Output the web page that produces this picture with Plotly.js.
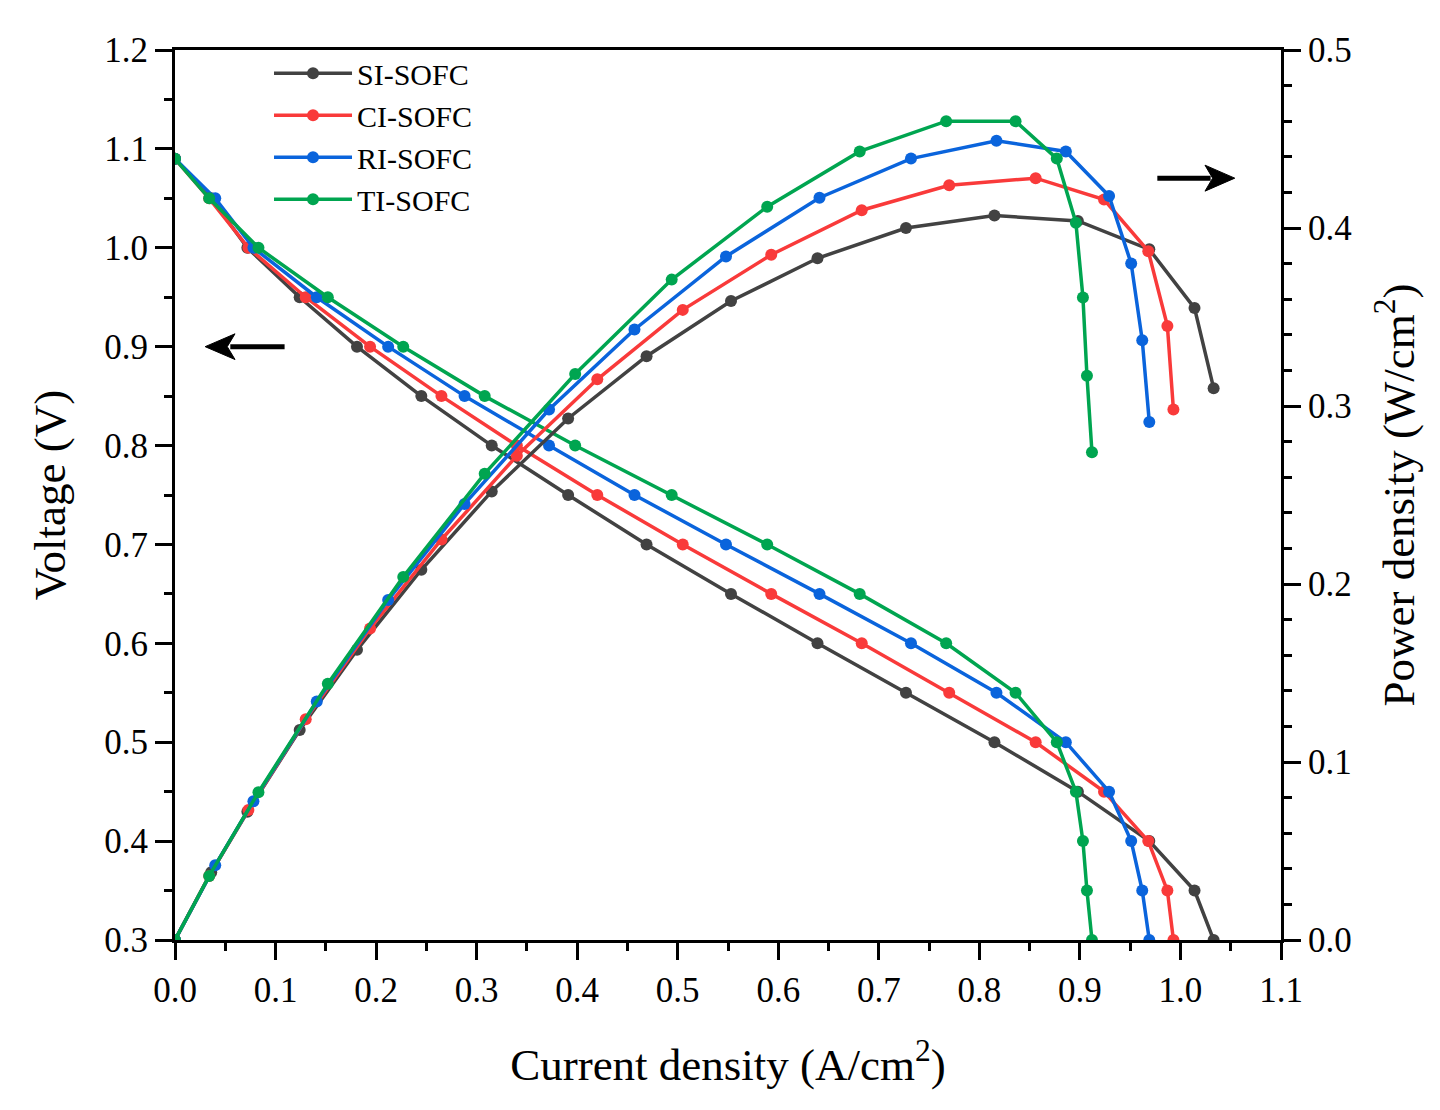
<!DOCTYPE html>
<html>
<head>
<meta charset="utf-8">
<script src="https://cdn.plot.ly/plotly-3.0.1.min.js"></script>
<style>html,body{margin:0;padding:0;background:#fff;}#chart{width:1440px;height:1110px;}</style>
</head>
<body>
<div id="chart"></div>
<script>
// Series names
const seriesNames = ["SI-SOFC", "CI-SOFC", "RI-SOFC", "TI-SOFC"];
const seriesColors = ["#424242", "#F93A3A", "#0A64DC", "#00A550"];

// Voltage levels (V) shared by all series
const voltage = [1.09, 1.05, 1.00, 0.95, 0.90, 0.85, 0.80, 0.75, 0.70, 0.65, 0.60, 0.55, 0.50, 0.45, 0.40, 0.35, 0.30];

// Current density (A/cm2) read for each series
const currentSI = [0, 0.036, 0.072, 0.124, 0.181, 0.245, 0.315, 0.391, 0.469, 0.553, 0.639, 0.727, 0.815, 0.898, 0.969, 1.014, 1.033];
const currentCI = [0, 0.034, 0.073, 0.130, 0.194, 0.265, 0.340, 0.420, 0.505, 0.593, 0.683, 0.770, 0.856, 0.924, 0.968, 0.987, 0.993];
const currentRI = [0, 0.040, 0.078, 0.141, 0.212, 0.288, 0.372, 0.457, 0.548, 0.641, 0.732, 0.817, 0.886, 0.929, 0.951, 0.962, 0.969];
const currentTI = [0, 0.034, 0.083, 0.152, 0.227, 0.308, 0.398, 0.494, 0.589, 0.681, 0.767, 0.836, 0.877, 0.896, 0.903, 0.907, 0.912];

// Power density (W/cm2) read for each series
const powerSI = [0, 0.038, 0.072, 0.118, 0.163, 0.208, 0.252, 0.293, 0.328, 0.359, 0.383, 0.400, 0.407, 0.404, 0.388, 0.355, 0.310];
const powerCI = [0, 0.036, 0.073, 0.124, 0.175, 0.225, 0.272, 0.315, 0.354, 0.385, 0.410, 0.424, 0.428, 0.416, 0.387, 0.345, 0.298];
const powerRI = [0, 0.042, 0.078, 0.134, 0.191, 0.245, 0.298, 0.343, 0.384, 0.417, 0.439, 0.449, 0.443, 0.418, 0.380, 0.337, 0.291];
const powerTI = [0, 0.036, 0.083, 0.144, 0.204, 0.262, 0.318, 0.371, 0.412, 0.443, 0.460, 0.460, 0.439, 0.403, 0.361, 0.317, 0.274];

// Axis tick values
const xTicks = [0.0, 0.1, 0.2, 0.3, 0.4, 0.5, 0.6, 0.7, 0.8, 0.9, 1.0, 1.1];
const yTicks = [0.3, 0.4, 0.5, 0.6, 0.7, 0.8, 0.9, 1.0, 1.1, 1.2];
const y2Ticks = [0.0, 0.1, 0.2, 0.3, 0.4, 0.5];

const currents = [currentSI, currentCI, currentRI, currentTI];
const powers = [powerSI, powerCI, powerRI, powerTI];

const traces = [];
for (let i = 0; i < 4; i++) {
  traces.push({
    x: currents[i], y: voltage, type: 'scatter', mode: 'lines+markers',
    name: seriesNames[i], yaxis: 'y', showlegend: true,
    line: {color: seriesColors[i], width: 3.5},
    marker: {color: seriesColors[i], size: 12, line: {width: 0}}
  });
}
for (let i = 0; i < 4; i++) {
  traces.push({
    x: currents[i], y: powers[i], type: 'scatter', mode: 'lines+markers',
    name: seriesNames[i], yaxis: 'y2', showlegend: false,
    line: {color: seriesColors[i], width: 3.5},
    marker: {color: seriesColors[i], size: 12, line: {width: 0}}
  });
}

const fontFam = '"Liberation Serif", "Times New Roman", serif';
const axisCommon = {
  showline: true, linewidth: 3, linecolor: '#000',
  ticks: 'outside', ticklen: 17, tickwidth: 3, tickcolor: '#000',
  showgrid: false, zeroline: false,
  tickfont: {family: fontFam, size: 35, color: '#000'},
  tickformat: '.1f'
};

const layout = {
  width: 1440, height: 1110,
  margin: {l: 175, r: 159, t: 50, b: 170},
  paper_bgcolor: '#fff', plot_bgcolor: '#fff',
  font: {family: fontFam, color: '#000'},
  xaxis: Object.assign({}, axisCommon, {
    range: [0, 1.1], tickmode: 'array', tickvals: xTicks,
    mirror: true,
    minor: {dtick: 0.05, ticklen: 8, tickwidth: 3, ticks: 'outside', tickcolor: '#000'},
    title: {text: 'Current density (A/cm<sup>2</sup>)', font: {family: fontFam, size: 45, color: '#000'}, standoff: 40}
  }),
  yaxis: Object.assign({}, axisCommon, {
    range: [0.3, 1.2], tickmode: 'array', tickvals: yTicks,
    minor: {dtick: 0.05, ticklen: 8, tickwidth: 3, ticks: 'outside', tickcolor: '#000'},
    title: {text: 'Voltage (V)', font: {family: fontFam, size: 45, color: '#000'}, standoff: 25}
  }),
  yaxis2: Object.assign({}, axisCommon, {
    range: [0, 0.5], tickmode: 'array', tickvals: y2Ticks,
    overlaying: 'y', side: 'right',
    minor: {dtick: 0.02, ticklen: 8, tickwidth: 3, ticks: 'outside', tickcolor: '#000'},
    title: {text: 'Power density (W/cm<sup>2</sup>)', font: {family: fontFam, size: 45, color: '#000'}, standoff: 32}
  }),
  legend: {
    x: 0.085, y: 1.003, xanchor: 'left', yanchor: 'top',
    bgcolor: 'rgba(0,0,0,0)', borderwidth: 0,
    font: {family: fontFam, size: 30, color: '#000'},
    itemwidth: 78, tracegroupgap: 0
  },
  shapes: [
    {type: 'line', xref: 'x', yref: 'y', x0: 0.109, y0: 0.9, x1: 0.055, y1: 0.9, line: {color: '#000', width: 5}},
    {type: 'path', xref: 'x', yref: 'y', path: 'M 0.030 0.9 L 0.0597 0.913 L 0.052 0.9 L 0.0597 0.887 Z',
     fillcolor: '#000', line: {color: '#000', width: 1}},
    {type: 'line', xref: 'x', yref: 'y2', x0: 0.977, y0: 0.428, x1: 1.030, y1: 0.428, line: {color: '#000', width: 5}},
    {type: 'path', xref: 'x', yref: 'y2', path: 'M 1.054 0.428 L 1.0244 0.4353 L 1.032 0.428 L 1.0244 0.4207 Z',
     fillcolor: '#000', line: {color: '#000', width: 1}}
  ]
};

Plotly.newPlot('chart', traces, layout, {displayModeBar: false, staticPlot: true});
</script>
</body>
</html>
